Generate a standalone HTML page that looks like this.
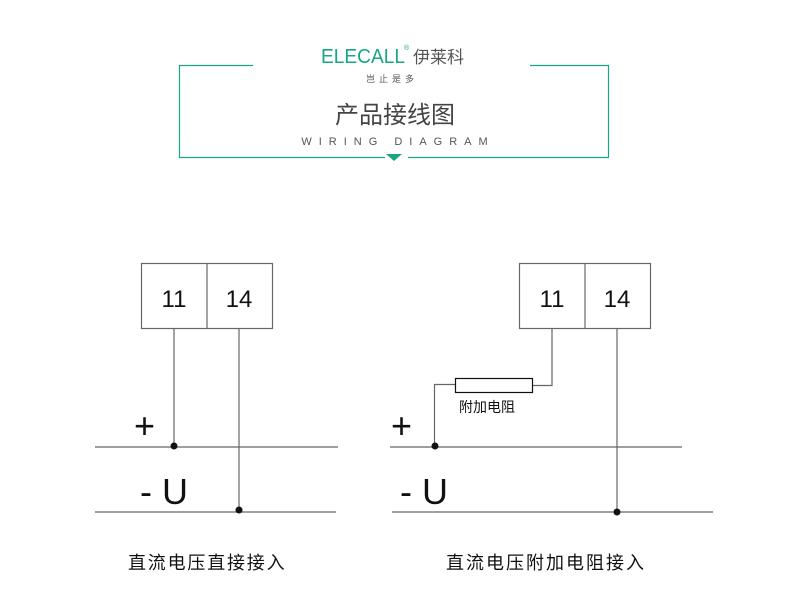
<!DOCTYPE html>
<html><head><meta charset="utf-8"><style>
html,body{margin:0;padding:0;background:#fff;}
svg{display:block;}
text{font-family:"Liberation Sans","Noto Sans CJK SC",sans-serif;}
</style></head><body>
<svg width="790" height="604" viewBox="0 0 790 604" xmlns="http://www.w3.org/2000/svg">
<g stroke="#1aa585" stroke-width="1.2" fill="none">
<path d="M253 65.5 H179.5 V157.5 H385"/>
<path d="M530 65.5 H608.5 V157.5 H408"/>
</g>
<polygon points="386,154 402,154 394,161" fill="#1aa585"/>
<text x="321" y="63" font-size="20" fill="#1aa585" textLength="84" lengthAdjust="spacingAndGlyphs">ELECALL</text>
<text x="404" y="50" font-size="7" fill="#1aa585">®</text>
<text x="413" y="63" font-size="17" fill="#555">伊莱科</text>
<text x="366" y="82" font-size="9" fill="#555" letter-spacing="4">岂止是多</text>
<text x="395" y="123" font-size="24" fill="#444" text-anchor="middle">产品接线图</text>
<text x="398" y="145" font-size="11" fill="#555" text-anchor="middle" letter-spacing="7">WIRING DIAGRAM</text>

<g stroke="#666" stroke-width="1.2" fill="none">
<rect x="141.5" y="263.5" width="131" height="65"/>
<line x1="207" y1="263.5" x2="207" y2="328.5"/>
<line x1="174" y1="328" x2="174" y2="447"/>
<line x1="239" y1="328" x2="239" y2="512"/>
<line x1="95" y1="447" x2="338" y2="447"/>
<line x1="95" y1="512" x2="336" y2="512"/>
</g>
<circle cx="174" cy="446" r="3.5" fill="#111"/>
<circle cx="239" cy="510" r="3.5" fill="#111"/>
<text x="174" y="307" font-size="24" text-anchor="middle" fill="#111">11</text>
<text x="239" y="307" font-size="24" text-anchor="middle" fill="#111">14</text>
<text x="134" y="438" font-size="36" fill="#111">+</text>
<text x="140" y="504" font-size="36" fill="#111">- U</text>
<text x="128" y="569" font-size="18" fill="#111" letter-spacing="1.8">直流电压直接接入</text>

<g stroke="#666" stroke-width="1.2" fill="none">
<rect x="519.5" y="263.5" width="131" height="65"/>
<line x1="585" y1="263.5" x2="585" y2="328.5"/>
<path d="M552 328 V385.5 H532"/>
<path d="M455 384.5 H434.5 V447"/>
<line x1="617" y1="328" x2="617" y2="512"/>
<line x1="390" y1="447" x2="682" y2="447"/>
<line x1="392" y1="512" x2="713" y2="512"/>
</g>
<rect x="455.5" y="378.5" width="77" height="14" fill="#fff" stroke="#111" stroke-width="1.2"/>
<circle cx="435" cy="446" r="3.5" fill="#111"/>
<circle cx="617" cy="512" r="3.5" fill="#111"/>
<text x="552" y="307" font-size="24" text-anchor="middle" fill="#111">11</text>
<text x="617" y="307" font-size="24" text-anchor="middle" fill="#111">14</text>
<text x="459" y="412" font-size="14" fill="#111">附加电阻</text>
<text x="391" y="438" font-size="36" fill="#111">+</text>
<text x="400" y="504" font-size="36" fill="#111">- U</text>
<text x="446" y="569" font-size="18" fill="#111" letter-spacing="2">直流电压附加电阻接入</text>
</svg>
</body></html>
